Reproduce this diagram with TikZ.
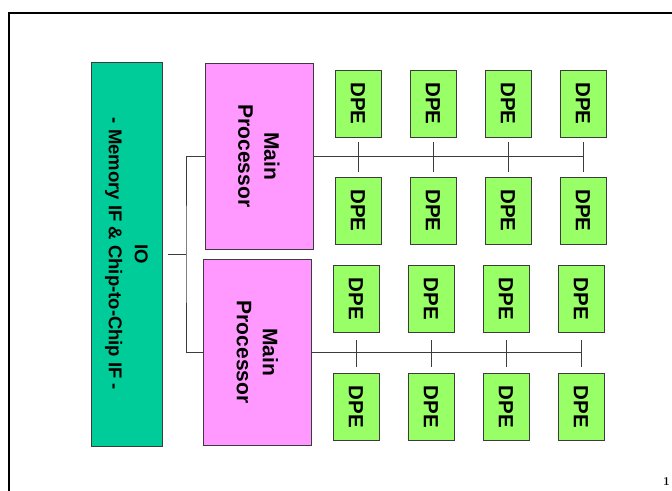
\documentclass[tikz,border=0pt]{standalone}
\usepackage{fontspec}
\setsansfont{Liberation Sans}
\usetikzlibrary{positioning}

\definecolor{iogreen}{RGB}{0,204,153}
\definecolor{mppink}{RGB}{255,153,255}
\definecolor{dpegreen}{RGB}{153,255,102}
\definecolor{edgegray}{RGB}{60,60,60}

\tikzset{
  blk/.style={draw=edgegray, line width=0.9pt, rotate=-90, inner sep=0pt, align=center},
  iobox/.style={blk, fill=iogreen, minimum width=384pt, minimum height=71pt,
    font=\sffamily\bfseries\fontsize{18.5}{26}\selectfont},
  mpbox/.style={blk, fill=mppink, minimum width=186pt, minimum height=108pt,
    font=\sffamily\bfseries\fontsize{21}{26}\selectfont},
  dpebox/.style={blk, fill=dpegreen, minimum width=67pt, minimum height=46pt,
    font=\sffamily\bfseries\fontsize{20.5}{24}\selectfont},
  wire/.style={draw=edgegray, line width=0.9pt},
}

\begin{document}
\begin{tikzpicture}[x=1pt, y=-1pt]
  \useasboundingbox (0,0) rectangle (672,490);
  \clip (0,0) rectangle (672,490);

  % Rahmen der Folie
  \draw[line width=1.6pt] (700,13) -- (9,13) -- (9,520);

  % IO und Hauptprozessoren
  \node[iobox] (io) at (126.5,254) {IO\\- Memory IF \& Chip-to-Chip IF -};
  \node[mpbox] (mp1) at (259,156) {Main\\Processor};
  \node[mpbox] (mp2) at (257.5,352) {Main\\Processor};

  % DPE-Felder
  \foreach \c/\x in {1/358,2/433,3/508,4/583} {
    \node[dpebox] (a\c) at (\x,103.5) {DPE};
    \node[dpebox] (b\c) at (\x,210.5) {DPE};
    \node[dpebox] (c\c) at (\x-2,299) {DPE};
    \node[dpebox] (d\c) at (\x-2,407) {DPE};
    \draw[wire, shorten <=5pt, shorten >=5pt] (a\c.east) -- (b\c.west);
    \draw[wire, shorten <=7pt, shorten >=6pt] (c\c.east) -- (d\c.west);
  }

  % Busse
  \draw[wire] (mp1.north) -- (a4.east |- mp1.north);
  \draw[wire] (mp2.north) -- (c4.east |- mp2.north);

  % Verbindung IO
  \coordinate (fork) at (186,254);
  \draw[wire] (mp1.south) -| (fork) |- (mp2.south);
  \draw[wire, shorten <=6pt] (io.north) -- (fork);

  % Seitenzahl
  \node[font=\bfseries\fontsize{12}{12}\selectfont] (pnum) at (666.5,482) {1};
\end{tikzpicture}
\end{document}
